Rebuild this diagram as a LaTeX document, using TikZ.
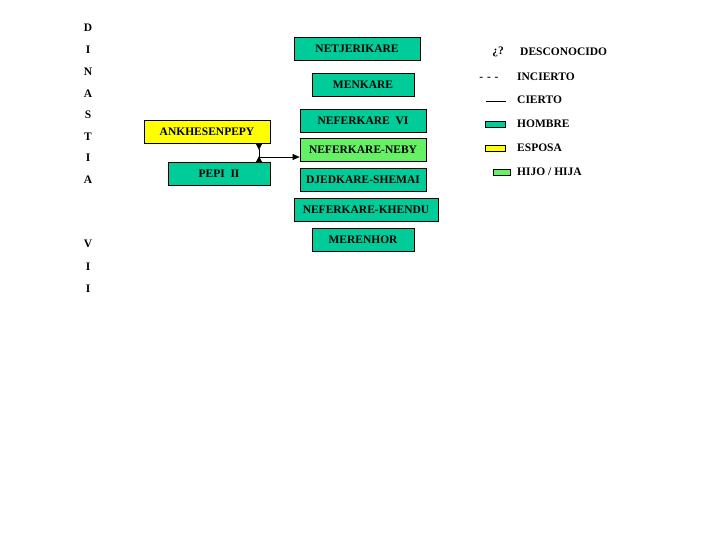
\documentclass[tikz,border=0pt]{standalone}
\usepackage{fontspec}
\setmainfont{Liberation Serif}
\usetikzlibrary{arrows.meta}
\definecolor{hombre}{HTML}{00CC99}
\definecolor{esposa}{HTML}{FFFF00}
\definecolor{hijo}{HTML}{66F066}
\tikzset{
  caja/.style={draw, line width=0.8pt, inner sep=0pt, minimum height=23pt, font=\fontsize{11.5}{13}\selectfont\bfseries},
  letra/.style={font=\fontsize{11.5}{13}\selectfont\bfseries, inner sep=0pt},
  muestra/.style={draw, line width=0.8pt, inner sep=0pt, minimum width=20pt, minimum height=6pt}
}
\begin{document}
\begin{tikzpicture}[x=1pt,y=-1pt]
        \useasboundingbox (0,0) rectangle (720,540);
        % dinastia
        \foreach \l/\y in {D/28,I/50,N/72,A/94,S/115,T/137,I/158,A/180,V/244,I/267,I/289}
            \node[letra] (d\y) at (88,\y) {\l};
        % reyes
        \node[caja, fill=hombre, minimum width=126pt] (netj) at (357,48.5) {NETJERIKARE};
        \node[caja, fill=hombre, minimum width=102pt] (menk) at (363,84.5) {MENKARE};
        \node[caja, fill=hombre, minimum width=126pt] (nefvi) at (363,120.5) {NEFERKARE\ \ VI};
        \node[caja, fill=hijo, minimum width=126pt] (neby) at (363,150) {NEFERKARE-NEBY};
        \node[caja, fill=hombre, minimum width=126pt] (djed) at (363,180) {DJEDKARE-SHEMAI};
        \node[caja, fill=hombre, minimum width=144pt] (khen) at (366,210) {NEFERKARE-KHENDU};
        \node[caja, fill=hombre, minimum width=102pt] (mere) at (363,240) {MERENHOR};
        \node[caja, fill=esposa, minimum width=126pt] (ankh) at (207,132) {ANKHESENPEPY};
        \node[caja, fill=hombre, minimum width=102pt] (pepi) at (219,174) {PEPI\ \ II};
        % union
        \coordinate (j) at (259,157);
        \draw[{Triangle[reversed,length=6pt,width=6pt]}-{Triangle[reversed,length=6pt,width=6pt]}] (ankh.south -| j) -- (pepi.north -| j);
        \draw[-{Triangle[length=7pt,width=6pt]}] (j) -- (neby.west |- j);
        % leyenda
        \node[letra] (q) at (498,52) {¿?};
        \node[letra, anchor=west] (ldesc) at (520,52) {DESCONOCIDO};
        \node[letra] (guion) at (489,79) {-\,\,-\,\,-};
        \node[letra, anchor=west] (linc) at (517,77) {INCIERTO};
        \coordinate (c1) at (486,101);
        \coordinate (c2) at (506,101);
        \draw[line width=0.8pt] (c1) -- (c2);
        \node[letra, anchor=west] (lcie) at (517,100) {CIERTO};
        \node[muestra, fill=hombre] (mh) at (495,124) {};
        \node[letra, anchor=west] (lhom) at (517,124) {HOMBRE};
        \node[muestra, fill=esposa] (me) at (495,148.5) {};
        \node[letra, anchor=west] (lesp) at (517,148) {ESPOSA};
        \node[muestra, fill=hijo, minimum width=17pt] (mj) at (502,172) {};
        \node[letra, anchor=west] (lhij) at (517,172) {HIJO / HIJA};
\end{tikzpicture}
\end{document}
